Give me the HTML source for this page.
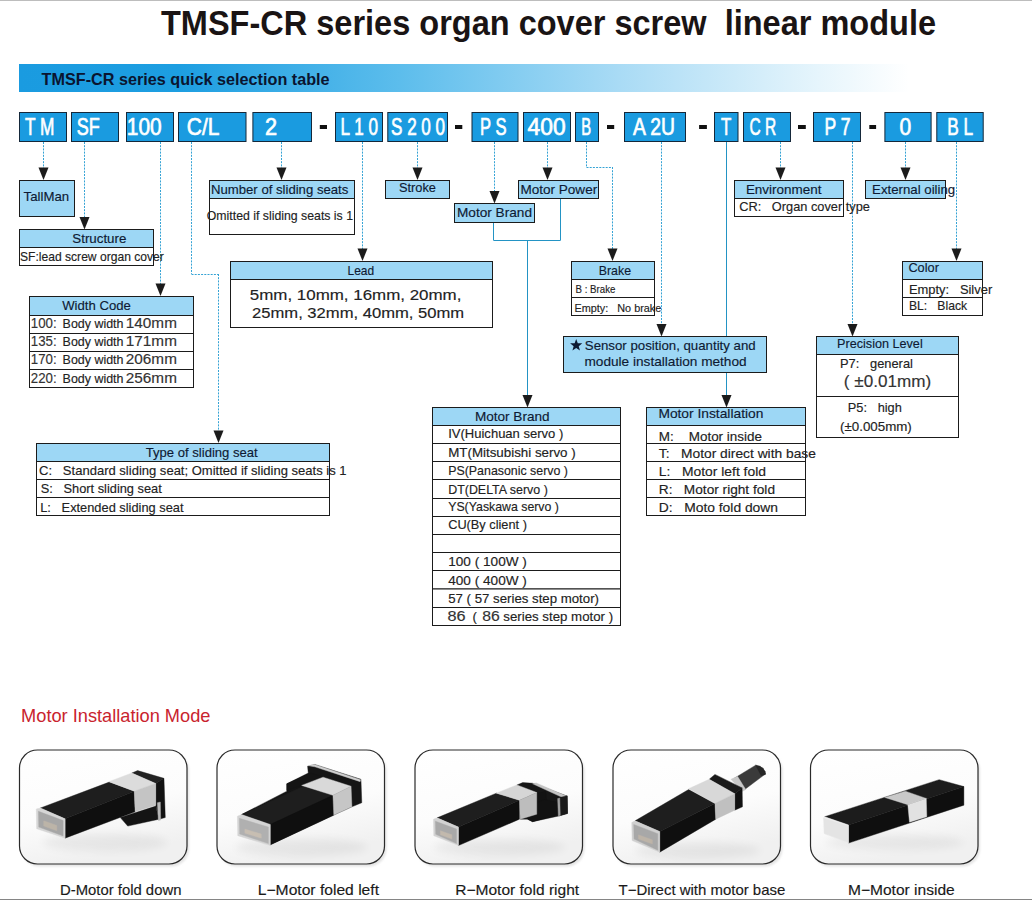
<!DOCTYPE html>
<html><head><meta charset="utf-8"><style>
html,body{margin:0;padding:0;background:#fff;}
body{width:1032px;height:900px;overflow:hidden;position:relative;font-family:"Liberation Sans",sans-serif;}
.banner{position:absolute;left:19px;top:64px;width:1013px;height:28px;
background:linear-gradient(90deg,#1a9be0 0px,#1d9ee1 160px,#5cbdec 380px,#a9dbf5 600px,#e6f5fc 800px,#ffffff 890px);}
svg{position:absolute;left:0;top:0;}
</style></head><body>
<div style="position:absolute;left:0;top:0;width:1032px;height:1px;background:#bdbdbd"></div>
<div class="banner"></div>
<svg width="1032" height="900" viewBox="0 0 1032 900" font-family="Liberation Sans, sans-serif">
<defs><linearGradient id="fg" x1="0" y1="0" x2="0.3" y2="1"><stop offset="0" stop-color="#ffffff"/><stop offset="0.6" stop-color="#fcfcfc"/><stop offset="1" stop-color="#f0f0f0"/></linearGradient>
<filter id="sh" x="-10%" y="-10%" width="120%" height="120%"><feGaussianBlur stdDeviation="1.2"/></filter>
<filter id="blr" x="-50%" y="-50%" width="200%" height="200%"><feGaussianBlur stdDeviation="25"/></filter></defs>
<text xml:space="preserve" x="161" y="34.7" font-size="35" font-weight="bold" fill="#1a1414" textLength="775" lengthAdjust="spacingAndGlyphs">TMSF-CR series organ cover screw  linear module</text>
<text x="41.6" y="84.7" font-size="16.5" font-weight="bold" fill="#0a1530" textLength="288" lengthAdjust="spacingAndGlyphs">TMSF-CR series quick selection table</text>
<rect x="19.5" y="112.5" width="47.0" height="29.0" fill="#1a9be0" stroke="#15283a" stroke-width="1"/>
<text x="25.1" y="135.2" font-size="24.5" font-weight="normal" fill="#fff" stroke="#fff" stroke-width="0.7" textLength="29.4" lengthAdjust="spacingAndGlyphs" xml:space="preserve">T M</text>
<rect x="71.5" y="112.5" width="47.0" height="29.0" fill="#1a9be0" stroke="#15283a" stroke-width="1"/>
<text x="76.8" y="135.2" font-size="24.5" font-weight="normal" fill="#fff" stroke="#fff" stroke-width="0.7" textLength="23.0" lengthAdjust="spacingAndGlyphs" xml:space="preserve">SF</text>
<rect x="126.5" y="112.5" width="47.0" height="29.0" fill="#1a9be0" stroke="#15283a" stroke-width="1"/>
<text x="126.8" y="135.2" font-size="24.5" font-weight="normal" fill="#fff" stroke="#fff" stroke-width="0.7" textLength="34.8" lengthAdjust="spacingAndGlyphs" xml:space="preserve">100</text>
<rect x="178.5" y="112.5" width="67.5" height="29.0" fill="#1a9be0" stroke="#15283a" stroke-width="1"/>
<text x="186.8" y="135.2" font-size="24.5" font-weight="normal" fill="#fff" stroke="#fff" stroke-width="0.7" textLength="32.6" lengthAdjust="spacingAndGlyphs" xml:space="preserve">C/L</text>
<rect x="252.9" y="112.5" width="58.6" height="29.0" fill="#1a9be0" stroke="#15283a" stroke-width="1"/>
<text x="265.1" y="135.2" font-size="24.5" font-weight="normal" fill="#fff" stroke="#fff" stroke-width="0.7" textLength="12.1" lengthAdjust="spacingAndGlyphs" xml:space="preserve">2</text>
<rect x="335.5" y="112.5" width="47.0" height="29.0" fill="#1a9be0" stroke="#15283a" stroke-width="1"/>
<text x="340.6" y="135.2" font-size="24.5" font-weight="normal" fill="#fff" stroke="#fff" stroke-width="0.7" textLength="37.4" lengthAdjust="spacingAndGlyphs" xml:space="preserve">L 1 0</text>
<rect x="387.8" y="112.5" width="59.7" height="29.0" fill="#1a9be0" stroke="#15283a" stroke-width="1"/>
<text x="391.0" y="135.2" font-size="24.5" font-weight="normal" fill="#fff" stroke="#fff" stroke-width="0.7" textLength="54.1" lengthAdjust="spacingAndGlyphs" xml:space="preserve">S 2 0 0</text>
<rect x="472.0" y="112.5" width="46.0" height="29.0" fill="#1a9be0" stroke="#15283a" stroke-width="1"/>
<text x="480.1" y="135.2" font-size="24.5" font-weight="normal" fill="#fff" stroke="#fff" stroke-width="0.7" textLength="26.4" lengthAdjust="spacingAndGlyphs" xml:space="preserve">P S</text>
<rect x="523.5" y="112.5" width="47.0" height="29.0" fill="#1a9be0" stroke="#15283a" stroke-width="1"/>
<text x="527.6" y="135.2" font-size="24.5" font-weight="normal" fill="#fff" stroke="#fff" stroke-width="0.7" textLength="38.0" lengthAdjust="spacingAndGlyphs" xml:space="preserve">400</text>
<rect x="575.5" y="112.5" width="23.0" height="29.0" fill="#1a9be0" stroke="#15283a" stroke-width="1"/>
<text x="581.3" y="135.2" font-size="24.5" font-weight="normal" fill="#fff" stroke="#fff" stroke-width="0.7" textLength="9.9" lengthAdjust="spacingAndGlyphs" xml:space="preserve">B</text>
<rect x="624.5" y="112.5" width="61.0" height="29.0" fill="#1a9be0" stroke="#15283a" stroke-width="1"/>
<text x="633.0" y="135.2" font-size="24.5" font-weight="normal" fill="#fff" stroke="#fff" stroke-width="0.7" textLength="41.9" lengthAdjust="spacingAndGlyphs" xml:space="preserve">A 2U</text>
<rect x="714.5" y="112.5" width="23.5" height="29.0" fill="#1a9be0" stroke="#15283a" stroke-width="1"/>
<text x="720.9" y="135.2" font-size="24.5" font-weight="normal" fill="#fff" stroke="#fff" stroke-width="0.7" textLength="10.3" lengthAdjust="spacingAndGlyphs" xml:space="preserve">T</text>
<rect x="743.5" y="112.5" width="47.0" height="29.0" fill="#1a9be0" stroke="#15283a" stroke-width="1"/>
<text x="749.6" y="135.2" font-size="24.5" font-weight="normal" fill="#fff" stroke="#fff" stroke-width="0.7" textLength="26.7" lengthAdjust="spacingAndGlyphs" xml:space="preserve">C R</text>
<rect x="813.5" y="112.5" width="47.0" height="29.0" fill="#1a9be0" stroke="#15283a" stroke-width="1"/>
<text x="824.6" y="135.2" font-size="24.5" font-weight="normal" fill="#fff" stroke="#fff" stroke-width="0.7" textLength="26.0" lengthAdjust="spacingAndGlyphs" xml:space="preserve">P 7</text>
<rect x="884.9" y="112.5" width="46.2" height="29.0" fill="#1a9be0" stroke="#15283a" stroke-width="1"/>
<text x="899.4" y="135.2" font-size="24.5" font-weight="normal" fill="#fff" stroke="#fff" stroke-width="0.7" textLength="11.7" lengthAdjust="spacingAndGlyphs" xml:space="preserve">0</text>
<rect x="936.8" y="112.5" width="46.4" height="29.0" fill="#1a9be0" stroke="#15283a" stroke-width="1"/>
<text x="947.3" y="135.2" font-size="24.5" font-weight="normal" fill="#fff" stroke="#fff" stroke-width="0.7" textLength="25.9" lengthAdjust="spacingAndGlyphs" xml:space="preserve">B L</text>
<rect x="319.8" y="125" width="7.2" height="4" fill="#111"/>
<rect x="455.0" y="125" width="7.3" height="4" fill="#111"/>
<rect x="607.0" y="125" width="7.2" height="4" fill="#111"/>
<rect x="699.1" y="125" width="7.8" height="4" fill="#111"/>
<rect x="798.0" y="125" width="7.8" height="4" fill="#111"/>
<rect x="869.3" y="125" width="6.8" height="4" fill="#111"/>
<line x1="43.5" y1="142.0" x2="43.5" y2="168.0" stroke="#35a3d5" stroke-width="1" stroke-dasharray="2,1.2"/>
<polygon points="38.5,167.5 48.5,167.5 43.5,180.0" fill="#1b1b1b"/>
<line x1="84.5" y1="142.0" x2="84.5" y2="217.5" stroke="#35a3d5" stroke-width="1" stroke-dasharray="2,1.2"/>
<polygon points="79.5,217.0 89.5,217.0 84.5,229.5" fill="#1b1b1b"/>
<line x1="160.5" y1="142.0" x2="160.5" y2="284.0" stroke="#35a3d5" stroke-width="1" stroke-dasharray="2,1.2"/>
<polygon points="155.5,283.5 165.5,283.5 160.5,296.0" fill="#1b1b1b"/>
<line x1="191.5" y1="142.0" x2="191.5" y2="274.0" stroke="#35a3d5" stroke-width="1" stroke-dasharray="2,1.2"/>
<line x1="191.5" y1="274.5" x2="218.5" y2="274.5" stroke="#35a3d5" stroke-width="1" stroke-dasharray="2,1.2"/>
<line x1="218.5" y1="274.0" x2="218.5" y2="431.0" stroke="#35a3d5" stroke-width="1" stroke-dasharray="2,1.2"/>
<polygon points="213.5,430.5 223.5,430.5 218.5,443.0" fill="#1b1b1b"/>
<line x1="281.5" y1="142.0" x2="281.5" y2="168.0" stroke="#35a3d5" stroke-width="1" stroke-dasharray="2,1.2"/>
<polygon points="276.5,167.5 286.5,167.5 281.5,180.0" fill="#1b1b1b"/>
<line x1="362.5" y1="142.0" x2="362.5" y2="249.0" stroke="#35a3d5" stroke-width="1" stroke-dasharray="2,1.2"/>
<polygon points="357.5,248.5 367.5,248.5 362.5,261.0" fill="#1b1b1b"/>
<line x1="417.5" y1="142.0" x2="417.5" y2="168.0" stroke="#35a3d5" stroke-width="1" stroke-dasharray="2,1.2"/>
<polygon points="412.5,167.5 422.5,167.5 417.5,180.0" fill="#1b1b1b"/>
<line x1="494.5" y1="142.0" x2="494.5" y2="191.5" stroke="#35a3d5" stroke-width="1" stroke-dasharray="2,1.2"/>
<polygon points="489.5,191.0 499.5,191.0 494.5,203.5" fill="#1b1b1b"/>
<line x1="547.5" y1="142.0" x2="547.5" y2="168.0" stroke="#35a3d5" stroke-width="1" stroke-dasharray="2,1.2"/>
<polygon points="542.5,167.5 552.5,167.5 547.5,180.0" fill="#1b1b1b"/>
<line x1="586.5" y1="142.0" x2="586.5" y2="167.0" stroke="#35a3d5" stroke-width="1" stroke-dasharray="2,1.2"/>
<line x1="586.5" y1="167.5" x2="612.5" y2="167.5" stroke="#35a3d5" stroke-width="1" stroke-dasharray="2,1.2"/>
<line x1="612.5" y1="167.0" x2="612.5" y2="249.0" stroke="#35a3d5" stroke-width="1" stroke-dasharray="2,1.2"/>
<polygon points="607.5,248.5 617.5,248.5 612.5,261.0" fill="#1b1b1b"/>
<line x1="661.5" y1="142.0" x2="661.5" y2="324.5" stroke="#35a3d5" stroke-width="1" stroke-dasharray="2,1.2"/>
<polygon points="656.5,324.0 666.5,324.0 661.5,336.5" fill="#1b1b1b"/>
<line x1="726.5" y1="142.0" x2="726.5" y2="395.5" stroke="#2393c4" stroke-width="1"/>
<polygon points="721.5,395.0 731.5,395.0 726.5,407.5" fill="#1b1b1b"/>
<line x1="780.5" y1="142.0" x2="780.5" y2="168.0" stroke="#35a3d5" stroke-width="1" stroke-dasharray="2,1.2"/>
<polygon points="775.5,167.5 785.5,167.5 780.5,180.0" fill="#1b1b1b"/>
<line x1="852.5" y1="142.0" x2="852.5" y2="324.5" stroke="#35a3d5" stroke-width="1" stroke-dasharray="2,1.2"/>
<polygon points="847.5,324.0 857.5,324.0 852.5,336.5" fill="#1b1b1b"/>
<line x1="905.5" y1="142.0" x2="905.5" y2="168.0" stroke="#35a3d5" stroke-width="1" stroke-dasharray="2,1.2"/>
<polygon points="900.5,167.5 910.5,167.5 905.5,180.0" fill="#1b1b1b"/>
<line x1="956.5" y1="142.0" x2="956.5" y2="249.0" stroke="#35a3d5" stroke-width="1" stroke-dasharray="2,1.2"/>
<polygon points="951.5,248.5 961.5,248.5 956.5,261.0" fill="#1b1b1b"/>
<line x1="493.5" y1="222.4" x2="493.5" y2="240.3" stroke="#2393c4" stroke-width="1"/>
<line x1="560.5" y1="198.4" x2="560.5" y2="240.3" stroke="#2393c4" stroke-width="1"/>
<line x1="493.5" y1="240.5" x2="560.5" y2="240.5" stroke="#2393c4" stroke-width="1"/>
<line x1="527.5" y1="240.3" x2="527.5" y2="395.0" stroke="#2393c4" stroke-width="1"/>
<polygon points="522.5,395.0 532.5,395.0 527.5,407.5" fill="#1b1b1b"/>
<rect x="19.5" y="180.5" width="55.0" height="36.0" fill="#9dd7f5" stroke="#1b1b1b" stroke-width="1"/>
<text x="23.6" y="201.4" font-size="13.5" font-weight="normal" fill="#0e1a33" stroke="#0e1a33" stroke-width="0.15" textLength="45.6" lengthAdjust="spacingAndGlyphs" xml:space="preserve">TallMan</text>
<rect x="19.5" y="229.5" width="134.0" height="18.0" fill="#9dd7f5" stroke="#1b1b1b" stroke-width="1"/>
<rect x="19.5" y="247.5" width="134.0" height="18.0" fill="#fff" stroke="#1b1b1b" stroke-width="1"/>
<text x="72.3" y="242.7" font-size="13.5" font-weight="normal" fill="#0e1a33" stroke="#0e1a33" stroke-width="0.15" textLength="54.1" lengthAdjust="spacingAndGlyphs" xml:space="preserve">Structure</text>
<text x="20.0" y="260.5" font-size="13" font-weight="normal" fill="#222222" stroke="#222222" stroke-width="0.15" textLength="143.8" lengthAdjust="spacingAndGlyphs" xml:space="preserve">SF:lead screw organ cover</text>
<rect x="209.5" y="180.5" width="145.0" height="18.0" fill="#9dd7f5" stroke="#1b1b1b" stroke-width="1"/>
<rect x="209.5" y="198.5" width="145.0" height="36.0" fill="#fff" stroke="#1b1b1b" stroke-width="1"/>
<text x="211.0" y="193.9" font-size="13.5" font-weight="normal" fill="#0e1a33" stroke="#0e1a33" stroke-width="0.15" textLength="137.3" lengthAdjust="spacingAndGlyphs" xml:space="preserve">Number of sliding seats</text>
<text x="206.8" y="219.8" font-size="13" font-weight="normal" fill="#222222" stroke="#222222" stroke-width="0.15" textLength="146.2" lengthAdjust="spacingAndGlyphs" xml:space="preserve">Omitted if sliding seats is 1</text>
<rect x="385.5" y="180.5" width="64.0" height="18.0" fill="#9dd7f5" stroke="#1b1b1b" stroke-width="1"/>
<text x="399.0" y="191.6" font-size="13.5" font-weight="normal" fill="#0e1a33" stroke="#0e1a33" stroke-width="0.15" textLength="37.0" lengthAdjust="spacingAndGlyphs" xml:space="preserve">Stroke</text>
<rect x="518.5" y="180.5" width="80.0" height="18.0" fill="#9dd7f5" stroke="#1b1b1b" stroke-width="1"/>
<text x="520.4" y="193.6" font-size="13.5" font-weight="normal" fill="#0e1a33" stroke="#0e1a33" stroke-width="0.15" textLength="76.8" lengthAdjust="spacingAndGlyphs" xml:space="preserve">Motor Power</text>
<rect x="454.5" y="203.5" width="80.0" height="19.0" fill="#9dd7f5" stroke="#1b1b1b" stroke-width="1"/>
<text x="457.0" y="216.8" font-size="13.5" font-weight="normal" fill="#0e1a33" stroke="#0e1a33" stroke-width="0.15" textLength="75.0" lengthAdjust="spacingAndGlyphs" xml:space="preserve">Motor Brand</text>
<rect x="734.5" y="180.5" width="109.0" height="18.0" fill="#9dd7f5" stroke="#1b1b1b" stroke-width="1"/>
<rect x="734.5" y="198.5" width="109.0" height="18.0" fill="#fff" stroke="#1b1b1b" stroke-width="1"/>
<text x="745.9" y="193.8" font-size="13.5" font-weight="normal" fill="#0e1a33" stroke="#0e1a33" stroke-width="0.15" textLength="75.6" lengthAdjust="spacingAndGlyphs" xml:space="preserve">Environment</text>
<text x="739.2" y="211.2" font-size="13" font-weight="normal" fill="#222222" stroke="#222222" stroke-width="0.15" textLength="130.8" lengthAdjust="spacingAndGlyphs" xml:space="preserve">CR:   Organ cover type</text>
<rect x="865.5" y="180.5" width="80.0" height="18.0" fill="#9dd7f5" stroke="#1b1b1b" stroke-width="1"/>
<text x="872.1" y="193.8" font-size="13.5" font-weight="normal" fill="#0e1a33" stroke="#0e1a33" stroke-width="0.15" textLength="83.1" lengthAdjust="spacingAndGlyphs" xml:space="preserve">External oiling</text>
<rect x="230.5" y="261.5" width="262.0" height="18.0" fill="#9dd7f5" stroke="#1b1b1b" stroke-width="1"/>
<rect x="230.5" y="279.5" width="262.0" height="48.0" fill="#fff" stroke="#1b1b1b" stroke-width="1"/>
<text x="347.5" y="275.3" font-size="13.5" font-weight="normal" fill="#0e1a33" stroke="#0e1a33" stroke-width="0.15" textLength="26.6" lengthAdjust="spacingAndGlyphs" xml:space="preserve">Lead</text>
<text x="249.8" y="300.3" font-size="14.5" font-weight="normal" fill="#222222" stroke="#222222" stroke-width="0.15" textLength="211.6" lengthAdjust="spacingAndGlyphs" xml:space="preserve">5mm, 10mm, 16mm, 20mm,</text>
<text x="252.0" y="318.2" font-size="14.5" font-weight="normal" fill="#222222" stroke="#222222" stroke-width="0.15" textLength="212.2" lengthAdjust="spacingAndGlyphs" xml:space="preserve">25mm, 32mm, 40mm, 50mm</text>
<rect x="571.5" y="261.5" width="83.0" height="18.0" fill="#9dd7f5" stroke="#1b1b1b" stroke-width="1"/>
<rect x="571.5" y="279.5" width="83.0" height="18.0" fill="#fff" stroke="#1b1b1b" stroke-width="1"/>
<rect x="571.5" y="297.5" width="83.0" height="18.0" fill="#fff" stroke="#1b1b1b" stroke-width="1"/>
<text x="598.8" y="274.5" font-size="13.5" font-weight="normal" fill="#0e1a33" stroke="#0e1a33" stroke-width="0.15" textLength="32.2" lengthAdjust="spacingAndGlyphs" xml:space="preserve">Brake</text>
<text x="575.6" y="292.6" font-size="11" font-weight="normal" fill="#222222" stroke="#222222" stroke-width="0.15" textLength="39.8" lengthAdjust="spacingAndGlyphs" xml:space="preserve">B : Brake</text>
<text x="574.5" y="311.8" font-size="11" font-weight="normal" fill="#222222" stroke="#222222" stroke-width="0.15" textLength="86.8" lengthAdjust="spacingAndGlyphs" xml:space="preserve">Empty:   No brake</text>
<rect x="902.5" y="261.5" width="80.0" height="18.0" fill="#9dd7f5" stroke="#1b1b1b" stroke-width="1"/>
<rect x="902.5" y="279.5" width="80.0" height="18.0" fill="#fff" stroke="#1b1b1b" stroke-width="1"/>
<rect x="902.5" y="297.5" width="80.0" height="18.0" fill="#fff" stroke="#1b1b1b" stroke-width="1"/>
<text x="908.4" y="271.6" font-size="13.5" font-weight="normal" fill="#0e1a33" stroke="#0e1a33" stroke-width="0.15" textLength="30.5" lengthAdjust="spacingAndGlyphs" xml:space="preserve">Color</text>
<text x="908.9" y="294.0" font-size="13" font-weight="normal" fill="#222222" stroke="#222222" stroke-width="0.15" textLength="83.3" lengthAdjust="spacingAndGlyphs" xml:space="preserve">Empty:   Silver</text>
<text x="908.9" y="310.4" font-size="13" font-weight="normal" fill="#222222" stroke="#222222" stroke-width="0.15" textLength="58.2" lengthAdjust="spacingAndGlyphs" xml:space="preserve">BL:   Black</text>
<rect x="29.5" y="296.5" width="164.0" height="19.0" fill="#9dd7f5" stroke="#1b1b1b" stroke-width="1"/>
<rect x="29.5" y="315.5" width="164.0" height="18.0" fill="#fff" stroke="#1b1b1b" stroke-width="1"/>
<rect x="29.5" y="333.5" width="164.0" height="18.0" fill="#fff" stroke="#1b1b1b" stroke-width="1"/>
<rect x="29.5" y="351.5" width="164.0" height="18.0" fill="#fff" stroke="#1b1b1b" stroke-width="1"/>
<rect x="29.5" y="369.5" width="164.0" height="18.0" fill="#fff" stroke="#1b1b1b" stroke-width="1"/>
<text x="62.2" y="309.5" font-size="13.5" font-weight="normal" fill="#0e1a33" stroke="#0e1a33" stroke-width="0.15" textLength="68.7" lengthAdjust="spacingAndGlyphs" xml:space="preserve">Width Code</text>
<text x="30.8" y="328.2" font-size="14.8" font-weight="normal" fill="#333" stroke="#333" stroke-width="0.15" textLength="25.8" lengthAdjust="spacingAndGlyphs" xml:space="preserve">100:</text>
<text x="62.6" y="328.2" font-size="12.5" font-weight="normal" fill="#222222" stroke="#222222" stroke-width="0.15" textLength="60.9" lengthAdjust="spacingAndGlyphs" xml:space="preserve">Body width</text>
<text x="125.8" y="328.2" font-size="14" font-weight="normal" fill="#333" stroke="#333" stroke-width="0.15" textLength="51.1" lengthAdjust="spacingAndGlyphs" xml:space="preserve">140mm</text>
<text x="30.8" y="346.3" font-size="14.8" font-weight="normal" fill="#333" stroke="#333" stroke-width="0.15" textLength="25.8" lengthAdjust="spacingAndGlyphs" xml:space="preserve">135:</text>
<text x="62.6" y="346.3" font-size="12.5" font-weight="normal" fill="#222222" stroke="#222222" stroke-width="0.15" textLength="60.9" lengthAdjust="spacingAndGlyphs" xml:space="preserve">Body width</text>
<text x="125.8" y="346.3" font-size="14" font-weight="normal" fill="#333" stroke="#333" stroke-width="0.15" textLength="51.1" lengthAdjust="spacingAndGlyphs" xml:space="preserve">171mm</text>
<text x="30.8" y="364.4" font-size="14.8" font-weight="normal" fill="#333" stroke="#333" stroke-width="0.15" textLength="25.8" lengthAdjust="spacingAndGlyphs" xml:space="preserve">170:</text>
<text x="62.6" y="364.4" font-size="12.5" font-weight="normal" fill="#222222" stroke="#222222" stroke-width="0.15" textLength="60.9" lengthAdjust="spacingAndGlyphs" xml:space="preserve">Body width</text>
<text x="125.8" y="364.4" font-size="14" font-weight="normal" fill="#333" stroke="#333" stroke-width="0.15" textLength="51.1" lengthAdjust="spacingAndGlyphs" xml:space="preserve">206mm</text>
<text x="30.8" y="382.9" font-size="14.8" font-weight="normal" fill="#333" stroke="#333" stroke-width="0.15" textLength="25.8" lengthAdjust="spacingAndGlyphs" xml:space="preserve">220:</text>
<text x="62.6" y="382.9" font-size="12.5" font-weight="normal" fill="#222222" stroke="#222222" stroke-width="0.15" textLength="60.9" lengthAdjust="spacingAndGlyphs" xml:space="preserve">Body width</text>
<text x="125.8" y="382.9" font-size="14" font-weight="normal" fill="#333" stroke="#333" stroke-width="0.15" textLength="51.1" lengthAdjust="spacingAndGlyphs" xml:space="preserve">256mm</text>
<rect x="563.5" y="336.5" width="203.0" height="36.0" fill="#9dd7f5" stroke="#1b1b1b" stroke-width="1"/>
<polygon points="576.20,338.90 577.78,343.13 582.29,343.32 578.76,346.13 579.96,350.48 576.20,347.99 572.44,350.48 573.64,346.13 570.11,343.32 574.62,343.13" fill="#0e1a33"/>
<text x="584.8" y="349.8" font-size="13.5" font-weight="normal" fill="#0e1a33" stroke="#0e1a33" stroke-width="0.15" textLength="170.9" lengthAdjust="spacingAndGlyphs" xml:space="preserve">Sensor position, quantity and</text>
<text x="584.5" y="366.2" font-size="13.5" font-weight="normal" fill="#0e1a33" stroke="#0e1a33" stroke-width="0.15" textLength="162.1" lengthAdjust="spacingAndGlyphs" xml:space="preserve">module installation method</text>
<rect x="816.5" y="336.5" width="142.0" height="18.0" fill="#9dd7f5" stroke="#1b1b1b" stroke-width="1"/>
<rect x="816.5" y="354.5" width="142.0" height="42.0" fill="#fff" stroke="#1b1b1b" stroke-width="1"/>
<rect x="816.5" y="396.5" width="142.0" height="41.0" fill="#fff" stroke="#1b1b1b" stroke-width="1"/>
<text x="837.1" y="348.4" font-size="13.5" font-weight="normal" fill="#0e1a33" stroke="#0e1a33" stroke-width="0.15" textLength="85.6" lengthAdjust="spacingAndGlyphs" xml:space="preserve">Precision Level</text>
<text x="840.0" y="367.8" font-size="13" font-weight="normal" fill="#222222" stroke="#222222" stroke-width="0.15" textLength="72.9" lengthAdjust="spacingAndGlyphs" xml:space="preserve">P7:   general</text>
<text x="843.8" y="386.7" font-size="16" font-weight="normal" fill="#333" stroke="#333" stroke-width="0.15" textLength="87.3" lengthAdjust="spacingAndGlyphs" xml:space="preserve">( ±0.01mm)</text>
<text x="847.8" y="411.6" font-size="13" font-weight="normal" fill="#222222" stroke="#222222" stroke-width="0.15" textLength="54.0" lengthAdjust="spacingAndGlyphs" xml:space="preserve">P5:   high</text>
<text x="840.0" y="431.1" font-size="13" font-weight="normal" fill="#222222" stroke="#222222" stroke-width="0.15" textLength="71.8" lengthAdjust="spacingAndGlyphs" xml:space="preserve">(±0.005mm)</text>
<rect x="36.5" y="443.5" width="293.0" height="18.0" fill="#9dd7f5" stroke="#1b1b1b" stroke-width="1"/>
<rect x="36.5" y="461.5" width="293.0" height="18.0" fill="#fff" stroke="#1b1b1b" stroke-width="1"/>
<rect x="36.5" y="479.5" width="293.0" height="18.0" fill="#fff" stroke="#1b1b1b" stroke-width="1"/>
<rect x="36.5" y="497.5" width="293.0" height="18.0" fill="#fff" stroke="#1b1b1b" stroke-width="1"/>
<text x="145.8" y="457.0" font-size="13.5" font-weight="normal" fill="#0e1a33" stroke="#0e1a33" stroke-width="0.15" textLength="111.9" lengthAdjust="spacingAndGlyphs" xml:space="preserve">Type of sliding seat</text>
<text x="39.0" y="474.5" font-size="13" font-weight="normal" fill="#222222" stroke="#222222" stroke-width="0.15" textLength="307.6" lengthAdjust="spacingAndGlyphs" xml:space="preserve">C:   Standard sliding seat; Omitted if sliding seats is 1</text>
<text x="40.7" y="492.7" font-size="13" font-weight="normal" fill="#222222" stroke="#222222" stroke-width="0.15" textLength="121.1" lengthAdjust="spacingAndGlyphs" xml:space="preserve">S:   Short sliding seat</text>
<text x="40.2" y="511.7" font-size="13" font-weight="normal" fill="#222222" stroke="#222222" stroke-width="0.15" textLength="143.3" lengthAdjust="spacingAndGlyphs" xml:space="preserve">L:   Extended sliding seat</text>
<rect x="432.5" y="407.5" width="188.0" height="18.0" fill="#9dd7f5" stroke="#1b1b1b" stroke-width="1"/>
<rect x="432.5" y="425.5" width="188.0" height="18.0" fill="#fff" stroke="#1b1b1b" stroke-width="1"/>
<rect x="432.5" y="443.5" width="188.0" height="18.0" fill="#fff" stroke="#1b1b1b" stroke-width="1"/>
<rect x="432.5" y="461.5" width="188.0" height="18.0" fill="#fff" stroke="#1b1b1b" stroke-width="1"/>
<rect x="432.5" y="479.5" width="188.0" height="19.0" fill="#fff" stroke="#1b1b1b" stroke-width="1"/>
<rect x="432.5" y="498.5" width="188.0" height="18.0" fill="#fff" stroke="#1b1b1b" stroke-width="1"/>
<rect x="432.5" y="516.5" width="188.0" height="18.0" fill="#fff" stroke="#1b1b1b" stroke-width="1"/>
<rect x="432.5" y="534.5" width="188.0" height="18.0" fill="#fff" stroke="#1b1b1b" stroke-width="1"/>
<rect x="432.5" y="552.5" width="188.0" height="18.0" fill="#fff" stroke="#1b1b1b" stroke-width="1"/>
<rect x="432.5" y="570.5" width="188.0" height="18.5" fill="#fff" stroke="#1b1b1b" stroke-width="1"/>
<rect x="432.5" y="589.0" width="188.0" height="18.5" fill="#fff" stroke="#1b1b1b" stroke-width="1"/>
<rect x="432.5" y="607.5" width="188.0" height="18.0" fill="#fff" stroke="#1b1b1b" stroke-width="1"/>
<text x="474.9" y="421.0" font-size="13.5" font-weight="normal" fill="#0e1a33" stroke="#0e1a33" stroke-width="0.15" textLength="74.7" lengthAdjust="spacingAndGlyphs" xml:space="preserve">Motor Brand</text>
<text x="448.2" y="438.4" font-size="12.8" font-weight="normal" fill="#222222" stroke="#222222" stroke-width="0.15" textLength="115.1" lengthAdjust="spacingAndGlyphs" xml:space="preserve">IV(Huichuan servo )</text>
<text x="448.2" y="456.8" font-size="12.8" font-weight="normal" fill="#222222" stroke="#222222" stroke-width="0.15" textLength="127.5" lengthAdjust="spacingAndGlyphs" xml:space="preserve">MT(Mitsubishi servo )</text>
<text x="448.2" y="475.2" font-size="12.8" font-weight="normal" fill="#222222" stroke="#222222" stroke-width="0.15" textLength="119.8" lengthAdjust="spacingAndGlyphs" xml:space="preserve">PS(Panasonic servo )</text>
<text x="448.2" y="493.6" font-size="12.8" font-weight="normal" fill="#222222" stroke="#222222" stroke-width="0.15" textLength="99.6" lengthAdjust="spacingAndGlyphs" xml:space="preserve">DT(DELTA servo )</text>
<text x="448.2" y="511.0" font-size="12.8" font-weight="normal" fill="#222222" stroke="#222222" stroke-width="0.15" textLength="110.7" lengthAdjust="spacingAndGlyphs" xml:space="preserve">YS(Yaskawa servo )</text>
<text x="448.2" y="529.4" font-size="12.8" font-weight="normal" fill="#222222" stroke="#222222" stroke-width="0.15" textLength="78.7" lengthAdjust="spacingAndGlyphs" xml:space="preserve">CU(By client )</text>
<text x="448.2" y="566.4" font-size="12.8" font-weight="normal" fill="#222222" stroke="#222222" stroke-width="0.15" textLength="78.7" lengthAdjust="spacingAndGlyphs" xml:space="preserve">100 ( 100W )</text>
<text x="448.2" y="584.7" font-size="12.8" font-weight="normal" fill="#222222" stroke="#222222" stroke-width="0.15" textLength="78.7" lengthAdjust="spacingAndGlyphs" xml:space="preserve">400 ( 400W )</text>
<text x="448.2" y="602.7" font-size="12.8" font-weight="normal" fill="#222222" stroke="#222222" stroke-width="0.15" textLength="150.8" lengthAdjust="spacingAndGlyphs" xml:space="preserve">57 ( 57 series step motor)</text>
<text x="447.4" y="621.1" font-size="14" font-weight="normal" fill="#333" stroke="#333" stroke-width="0.15" textLength="18.1" lengthAdjust="spacingAndGlyphs" xml:space="preserve">86</text>
<text x="472.6" y="621.1" font-size="13" font-weight="normal" fill="#222222" stroke="#222222" stroke-width="0.15" textLength="4.4" lengthAdjust="spacingAndGlyphs" xml:space="preserve">(</text>
<text x="482.3" y="621.1" font-size="14" font-weight="normal" fill="#333" stroke="#333" stroke-width="0.15" textLength="17.5" lengthAdjust="spacingAndGlyphs" xml:space="preserve">86</text>
<text x="503.3" y="621.1" font-size="12.8" font-weight="normal" fill="#222222" stroke="#222222" stroke-width="0.15" textLength="109.8" lengthAdjust="spacingAndGlyphs" xml:space="preserve">series step motor )</text>
<rect x="646.5" y="407.5" width="159.0" height="18.0" fill="#9dd7f5" stroke="#1b1b1b" stroke-width="1"/>
<rect x="646.5" y="425.5" width="159.0" height="18.0" fill="#fff" stroke="#1b1b1b" stroke-width="1"/>
<rect x="646.5" y="443.5" width="159.0" height="18.0" fill="#fff" stroke="#1b1b1b" stroke-width="1"/>
<rect x="646.5" y="461.5" width="159.0" height="18.0" fill="#fff" stroke="#1b1b1b" stroke-width="1"/>
<rect x="646.5" y="479.5" width="159.0" height="18.0" fill="#fff" stroke="#1b1b1b" stroke-width="1"/>
<rect x="646.5" y="497.5" width="159.0" height="18.0" fill="#fff" stroke="#1b1b1b" stroke-width="1"/>
<text x="658.4" y="417.9" font-size="13.5" font-weight="normal" fill="#0e1a33" stroke="#0e1a33" stroke-width="0.15" textLength="105.0" lengthAdjust="spacingAndGlyphs" xml:space="preserve">Motor Installation</text>
<text x="658.8" y="440.5" font-size="13" font-weight="normal" fill="#222222" stroke="#222222" stroke-width="0.15" textLength="103.2" lengthAdjust="spacingAndGlyphs" xml:space="preserve">M:    Motor inside</text>
<text x="658.8" y="458.4" font-size="13" font-weight="normal" fill="#222222" stroke="#222222" stroke-width="0.15" textLength="157.1" lengthAdjust="spacingAndGlyphs" xml:space="preserve">T:   Motor direct with base</text>
<text x="658.8" y="476.4" font-size="13" font-weight="normal" fill="#222222" stroke="#222222" stroke-width="0.15" textLength="107.2" lengthAdjust="spacingAndGlyphs" xml:space="preserve">L:   Motor left fold</text>
<text x="658.8" y="494.3" font-size="13" font-weight="normal" fill="#222222" stroke="#222222" stroke-width="0.15" textLength="116.2" lengthAdjust="spacingAndGlyphs" xml:space="preserve">R:   Motor right fold</text>
<text x="658.8" y="512.4" font-size="13" font-weight="normal" fill="#222222" stroke="#222222" stroke-width="0.15" textLength="119.2" lengthAdjust="spacingAndGlyphs" xml:space="preserve">D:   Moto fold down</text>
<text x="21.1" y="722.4" font-size="18.5" font-weight="normal" fill="#c9232d" stroke="#c9232d" stroke-width="0" textLength="189.3" lengthAdjust="spacingAndGlyphs" xml:space="preserve">Motor Installation Mode</text>
<rect x="21.5" y="752.5" width="167.5" height="114" rx="18" ry="18" fill="#e4e4e4" filter="url(#sh)"/>
<rect x="19.5" y="750" width="167.5" height="114" rx="18" ry="18" fill="url(#fg)" stroke="#2a2a2a" stroke-width="1.2"/>
<rect x="219.0" y="752.5" width="167.5" height="114" rx="18" ry="18" fill="#e4e4e4" filter="url(#sh)"/>
<rect x="217.0" y="750" width="167.5" height="114" rx="18" ry="18" fill="url(#fg)" stroke="#2a2a2a" stroke-width="1.2"/>
<rect x="417.0" y="752.5" width="167.5" height="114" rx="18" ry="18" fill="#e4e4e4" filter="url(#sh)"/>
<rect x="415.0" y="750" width="167.5" height="114" rx="18" ry="18" fill="url(#fg)" stroke="#2a2a2a" stroke-width="1.2"/>
<rect x="615.0" y="752.5" width="167.5" height="114" rx="18" ry="18" fill="#e4e4e4" filter="url(#sh)"/>
<rect x="613.0" y="750" width="167.5" height="114" rx="18" ry="18" fill="url(#fg)" stroke="#2a2a2a" stroke-width="1.2"/>
<rect x="812.5" y="752.5" width="167.5" height="114" rx="18" ry="18" fill="#e4e4e4" filter="url(#sh)"/>
<rect x="810.5" y="750" width="167.5" height="114" rx="18" ry="18" fill="url(#fg)" stroke="#2a2a2a" stroke-width="1.2"/>
<g transform="translate(19,750) scale(0.16473)">
<ellipse cx="520" cy="560" rx="380" ry="55" fill="#000" opacity="0.05" filter="url(#blr)"/>
<polygon points="130,352 548,195 700,250 280,418" fill="#1e1e1e" stroke="#1e1e1e" stroke-width="2.5" stroke-linejoin="round"/>
<polygon points="280,418 700,250 705,375 280,535" fill="#0f0f0f" stroke="#0f0f0f" stroke-width="2.5" stroke-linejoin="round"/>
<polygon points="615,410 830,340 850,420 660,462" fill="#141414" stroke="#141414" stroke-width="2.5" stroke-linejoin="round"/>
<polygon points="685,140 720,125 880,172 830,203" fill="#222" stroke="#222" stroke-width="2.5" stroke-linejoin="round"/>
<polygon points="830,203 880,172 888,410 850,420 830,335" fill="#121212" stroke="#121212" stroke-width="2.5" stroke-linejoin="round"/>
<polygon points="840,320 858,316 860,425 846,428" fill="#b8b8b8" stroke="#b8b8b8" stroke-width="2.5" stroke-linejoin="round"/>
<polygon points="545,192 685,140 830,203 700,250" fill="#dcdcdc" stroke="#dcdcdc" stroke-width="2.5" stroke-linejoin="round"/>
<polygon points="700,250 830,203 830,335 705,375" fill="#c4c4c4" stroke="#c4c4c4" stroke-width="2.5" stroke-linejoin="round"/>
<polygon points="105,358 130,352 280,418 280,535 107,478" fill="#d6d6d6" stroke="#d6d6d6" stroke-width="2.5" stroke-linejoin="round"/>
<polygon points="118,372 268,428 268,522 120,468" fill="#a6a6a6" stroke="#a6a6a6" stroke-width="2.5" stroke-linejoin="round"/>
<polygon points="150,430 230,458 230,490 150,462" fill="#bcb4a8" stroke="#bcb4a8" stroke-width="2.5" stroke-linejoin="round"/>
</g>
<g transform="translate(216,750) scale(0.16473)">
<ellipse cx="520" cy="590" rx="400" ry="55" fill="#000" opacity="0.05" filter="url(#blr)"/>
<polygon points="430,205 560,140 556,98 600,88 880,178 885,320 825,345 715,395 330,575 330,452 155,392 430,250" fill="#151515" stroke="#151515" stroke-width="2.5" stroke-linejoin="round"/>
<polygon points="560,95 598,88 878,180 875,192 600,102" fill="#cfcfcf" stroke="#cfcfcf" stroke-width="2.5" stroke-linejoin="round"/>
<polygon points="430,205 575,140 655,165 520,215 430,245" fill="#141414" stroke="#141414" stroke-width="2.5" stroke-linejoin="round"/>
<polygon points="155,392 530,220 710,275 330,452" fill="#1e1e1e" stroke="#1e1e1e" stroke-width="2.5" stroke-linejoin="round"/>
<polygon points="330,452 710,275 715,395 330,575" fill="#0f0f0f" stroke="#0f0f0f" stroke-width="2.5" stroke-linejoin="round"/>
<polygon points="520,215 650,165 820,220 710,275" fill="#d9d9d9" stroke="#d9d9d9" stroke-width="2.5" stroke-linejoin="round"/>
<polygon points="710,275 820,220 825,345 715,395" fill="#c6c6c6" stroke="#c6c6c6" stroke-width="2.5" stroke-linejoin="round"/>
<polygon points="130,402 155,392 330,452 330,580 132,520" fill="#d4d4d4" stroke="#d4d4d4" stroke-width="2.5" stroke-linejoin="round"/>
<polygon points="142,415 318,468 318,568 144,510" fill="#b0b0b0" stroke="#b0b0b0" stroke-width="2.5" stroke-linejoin="round"/>
<polygon points="175,480 275,510 275,535 175,505" fill="#c7beb2" stroke="#c7beb2" stroke-width="2.5" stroke-linejoin="round"/>
</g>
<g transform="translate(414,750) scale(0.16473)">
<ellipse cx="520" cy="590" rx="400" ry="50" fill="#000" opacity="0.05" filter="url(#blr)"/>
<polygon points="140,412 500,262 640,305 270,468" fill="#1e1e1e" stroke="#1e1e1e" stroke-width="2.5" stroke-linejoin="round"/>
<polygon points="270,468 640,305 640,420 270,580" fill="#0f0f0f" stroke="#0f0f0f" stroke-width="2.5" stroke-linejoin="round"/>
<polygon points="625,212 660,198 722,202 930,280 932,385 880,400 720,435 690,420 645,420 640,305" fill="#161616" stroke="#161616" stroke-width="2.5" stroke-linejoin="round"/>
<polygon points="745,262 800,250 805,300 745,320" fill="#121212" stroke="#121212" stroke-width="2.5" stroke-linejoin="round"/>
<polygon points="720,205 742,200 925,280 905,290" fill="#c4c4c4" stroke="#c4c4c4" stroke-width="2.5" stroke-linejoin="round"/>
<polygon points="690,350 790,300 880,318 875,392 720,435 690,420" fill="#121212" stroke="#121212" stroke-width="2.5" stroke-linejoin="round"/>
<polygon points="870,292 930,278 932,385 880,400" fill="#1a1a1a" stroke="#1a1a1a" stroke-width="2.5" stroke-linejoin="round"/>
<polygon points="872,295 885,292 888,398 876,400" fill="#9f9f9f" stroke="#9f9f9f" stroke-width="2.5" stroke-linejoin="round"/>
<polygon points="500,262 625,212 745,258 640,305" fill="#d6d6d6" stroke="#d6d6d6" stroke-width="2.5" stroke-linejoin="round"/>
<polygon points="640,305 745,258 745,390 645,420" fill="#bdbdbd" stroke="#bdbdbd" stroke-width="2.5" stroke-linejoin="round"/>
<polygon points="118,420 140,412 270,468 270,580 120,520" fill="#d2d2d2" stroke="#d2d2d2" stroke-width="2.5" stroke-linejoin="round"/>
<polygon points="130,432 258,480 258,568 132,512" fill="#a9a9a9" stroke="#a9a9a9" stroke-width="2.5" stroke-linejoin="round"/>
<polygon points="160,490 230,515 230,540 160,515" fill="#c2b9ad" stroke="#c2b9ad" stroke-width="2.5" stroke-linejoin="round"/>
</g>
<g transform="translate(612,750) scale(0.16473)">
<ellipse cx="520" cy="610" rx="380" ry="50" fill="#000" opacity="0.05" filter="url(#blr)"/>
<polygon points="742,172 872,92 918,110 932,145 808,238" fill="#3a3a3a" stroke="#3a3a3a" stroke-width="2.5" stroke-linejoin="round"/>
<polygon points="872,92 900,98 930,130 932,148 905,155" fill="#262626" stroke="#262626" stroke-width="2.5" stroke-linejoin="round"/>
<polygon points="722,178 762,160 812,240 790,252" fill="#c8c8c8" stroke="#c8c8c8" stroke-width="2.5" stroke-linejoin="round"/>
<polygon points="140,430 465,240 625,325 290,495" fill="#1e1e1e" stroke="#1e1e1e" stroke-width="2.5" stroke-linejoin="round"/>
<polygon points="290,495 625,325 630,420 290,620" fill="#0f0f0f" stroke="#0f0f0f" stroke-width="2.5" stroke-linejoin="round"/>
<polygon points="590,178 625,148 790,230 745,265" fill="#1a1a1a" stroke="#1a1a1a" stroke-width="2.5" stroke-linejoin="round"/>
<polygon points="745,265 790,230 792,345 745,365" fill="#111" stroke="#111" stroke-width="2.5" stroke-linejoin="round"/>
<polygon points="465,235 590,178 745,265 625,325" fill="#d8d8d8" stroke="#d8d8d8" stroke-width="2.5" stroke-linejoin="round"/>
<polygon points="625,325 745,265 745,365 630,420" fill="#c0c0c0" stroke="#c0c0c0" stroke-width="2.5" stroke-linejoin="round"/>
<polygon points="120,440 140,430 290,495 290,620 122,550" fill="#d0d0d0" stroke="#d0d0d0" stroke-width="2.5" stroke-linejoin="round"/>
<polygon points="132,452 278,508 278,608 134,540" fill="#a8a8a8" stroke="#a8a8a8" stroke-width="2.5" stroke-linejoin="round"/>
<polygon points="160,515 245,545 245,570 160,540" fill="#bdb4a8" stroke="#bdb4a8" stroke-width="2.5" stroke-linejoin="round"/>
</g>
<g transform="translate(809,750) scale(0.16473)">
<ellipse cx="520" cy="560" rx="420" ry="45" fill="#000" opacity="0.05" filter="url(#blr)"/>
<polygon points="95,405 790,180 940,222 240,455" fill="#1c1c1c" stroke="#1c1c1c" stroke-width="2.5" stroke-linejoin="round"/>
<polygon points="240,455 940,222 940,335 240,565" fill="#0f0f0f" stroke="#0f0f0f" stroke-width="2.5" stroke-linejoin="round"/>
<polygon points="460,288 585,250 712,294 600,332" fill="#c9c9c9" stroke="#c9c9c9" stroke-width="2.5" stroke-linejoin="round"/>
<polygon points="600,332 712,294 715,405 610,438" fill="#e2e2e2" stroke="#e2e2e2" stroke-width="2.5" stroke-linejoin="round"/>
<polygon points="88,410 95,405 240,455 240,565 92,508" fill="#ececec" stroke="#ececec" stroke-width="2.5" stroke-linejoin="round"/>
<polygon points="90,415 236,462 236,560 93,505" fill="#e4e4e4" stroke="#e4e4e4" stroke-width="2.5" stroke-linejoin="round"/>
</g>
<text x="60.0" y="894.5" font-size="14.5" font-weight="normal" fill="#1a1a1a" stroke="#1a1a1a" stroke-width="0.15" textLength="121.4" lengthAdjust="spacingAndGlyphs" xml:space="preserve">D-Motor fold down</text>
<text x="257.8" y="894.5" font-size="14.5" font-weight="normal" fill="#1a1a1a" stroke="#1a1a1a" stroke-width="0.15" textLength="121.2" lengthAdjust="spacingAndGlyphs" xml:space="preserve">L−Motor foled left</text>
<text x="455.2" y="894.5" font-size="14.5" font-weight="normal" fill="#1a1a1a" stroke="#1a1a1a" stroke-width="0.15" textLength="124.0" lengthAdjust="spacingAndGlyphs" xml:space="preserve">R−Motor fold right</text>
<text x="618.6" y="894.5" font-size="14.5" font-weight="normal" fill="#1a1a1a" stroke="#1a1a1a" stroke-width="0.15" textLength="166.7" lengthAdjust="spacingAndGlyphs" xml:space="preserve">T−Direct with motor base</text>
<text x="848.0" y="894.5" font-size="14.5" font-weight="normal" fill="#1a1a1a" stroke="#1a1a1a" stroke-width="0.15" textLength="106.7" lengthAdjust="spacingAndGlyphs" xml:space="preserve">M−Motor inside</text>
</svg>
<div style="position:absolute;left:0;top:898.5px;width:1032px;height:1.5px;background:#858585"></div>
</body></html>
